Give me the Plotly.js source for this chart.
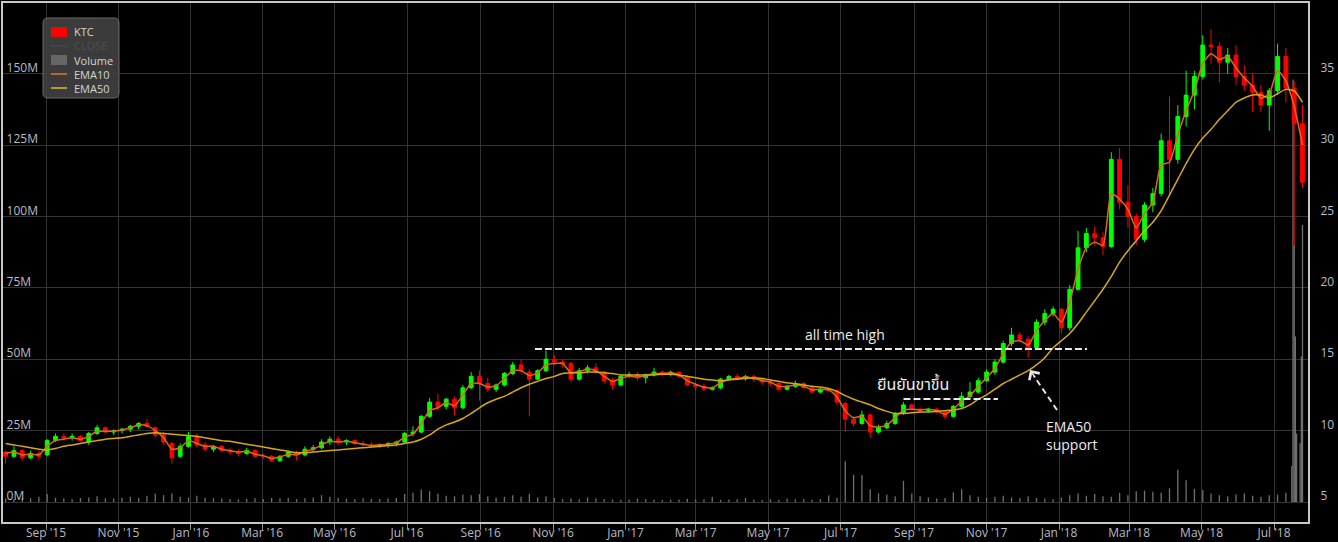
<!DOCTYPE html>
<html><head><meta charset="utf-8">
<script src="https://cdn.plot.ly/plotly-3.0.1.min.js"></script>
<style>html,body{margin:0;padding:0;background:#000;}#chart{width:1338px;height:542px;}</style>
</head><body><div id="chart"></div>
<script>
// Weekly candles (mid-week dates), Jul 2015 - Jul 2018
const weekDates = [
'2015-07-29','2015-08-05','2015-08-12','2015-08-19','2015-08-26','2015-09-02','2015-09-09','2015-09-16','2015-09-23','2015-09-30',
'2015-10-07','2015-10-14','2015-10-21','2015-10-28','2015-11-04','2015-11-11','2015-11-18','2015-11-25','2015-12-02','2015-12-09',
'2015-12-16','2015-12-23','2015-12-30','2016-01-06','2016-01-13','2016-01-20','2016-01-27','2016-02-03','2016-02-10','2016-02-17',
'2016-02-24','2016-03-02','2016-03-09','2016-03-16','2016-03-23','2016-03-30','2016-04-06','2016-04-13','2016-04-20','2016-04-27',
'2016-05-04','2016-05-11','2016-05-18','2016-05-25','2016-06-01','2016-06-08','2016-06-15','2016-06-22','2016-06-29','2016-07-06',
'2016-07-13','2016-07-20','2016-07-27','2016-08-03','2016-08-10','2016-08-17','2016-08-24','2016-08-31','2016-09-07','2016-09-14',
'2016-09-21','2016-09-28','2016-10-05','2016-10-12','2016-10-19','2016-10-26','2016-11-02','2016-11-09','2016-11-16','2016-11-23',
'2016-11-30','2016-12-07','2016-12-14','2016-12-21','2016-12-28','2017-01-04','2017-01-11','2017-01-18','2017-01-25','2017-02-01',
'2017-02-08','2017-02-15','2017-02-22','2017-03-01','2017-03-08','2017-03-15','2017-03-22','2017-03-29','2017-04-05','2017-04-12',
'2017-04-19','2017-04-26','2017-05-03','2017-05-10','2017-05-17','2017-05-24','2017-05-31','2017-06-07','2017-06-14','2017-06-21',
'2017-06-28','2017-07-05','2017-07-12','2017-07-19','2017-07-26','2017-08-02','2017-08-09','2017-08-16','2017-08-23','2017-08-30',
'2017-09-06','2017-09-13','2017-09-20','2017-09-27','2017-10-04','2017-10-11','2017-10-18','2017-10-25','2017-11-01','2017-11-08',
'2017-11-15','2017-11-22','2017-11-29','2017-12-06','2017-12-13','2017-12-20','2017-12-27','2018-01-03','2018-01-10','2018-01-17',
'2018-01-24','2018-01-31','2018-02-07','2018-02-14','2018-02-21','2018-02-28','2018-03-07','2018-03-14','2018-03-21','2018-03-28',
'2018-04-04','2018-04-11','2018-04-18','2018-04-25','2018-05-02','2018-05-09','2018-05-16','2018-05-23','2018-05-30','2018-06-06',
'2018-06-13','2018-06-20','2018-06-27','2018-07-04','2018-07-11','2018-07-18','2018-07-25'];

const openP = [
8.5,8.2,8.6,8.1,8.4,8.3,9.3,9.6,9.5,9.6,
9.2,9.8,10.2,9.9,10.0,10.1,10.3,10.5,10.2,9.7,
9.1,8.2,8.9,9.6,9.0,8.7,8.9,8.6,8.5,8.4,
8.6,8.2,8.2,7.9,8.2,8.5,8.3,8.7,8.8,9.2,
9.4,9.2,9.3,9.1,9.0,8.9,9.0,9.1,9.2,9.8,
9.9,11.0,12.0,11.7,12.2,11.6,13.0,13.8,13.3,12.9,
13.2,14.0,14.6,14.1,13.6,14.2,15.0,14.8,14.7,13.6,
14.2,14.4,14.1,13.5,13.2,13.8,13.9,13.7,13.9,14.1,
14.0,14.1,13.8,13.2,13.1,12.9,13.0,13.6,13.8,13.7,
13.8,13.6,13.4,13.3,12.9,13.1,13.3,13.0,12.7,12.9,
12.8,11.9,10.8,10.5,11.1,9.9,10.2,10.5,11.2,11.8,
11.5,11.4,11.5,11.3,11.0,11.7,12.4,12.7,13.5,14.1,
14.8,16.1,16.7,16.4,15.8,17.6,18.2,18.5,17.2,19.9,
22.8,23.8,23.5,22.9,29.0,26.0,25.0,23.4,25.8,26.6,
30.3,29.0,32.0,33.5,34.8,37.0,36.9,35.8,36.3,34.8,
34.2,33.7,32.8,33.8,36.2,34.0,31.5];

const highP = [
8.6,8.9,8.7,8.6,8.6,9.4,9.8,9.8,9.8,9.7,
9.9,10.4,10.3,10.1,10.2,10.4,10.6,10.8,10.3,9.9,
9.2,9.1,9.9,9.8,9.2,9.0,9.0,8.8,8.7,8.8,
8.7,8.4,8.3,8.3,8.6,8.6,8.9,9.0,9.4,9.6,
9.6,9.4,9.4,9.3,9.2,9.1,9.2,9.3,9.9,10.3,
11.1,12.3,12.6,12.3,12.4,13.2,14.1,14.2,13.7,13.3,
14.1,14.8,15.0,14.3,14.3,15.6,15.3,15.0,14.8,14.4,
14.6,14.7,14.2,13.7,13.9,14.1,14.1,14.0,14.4,14.2,
14.2,14.1,13.9,13.4,13.3,13.1,13.7,13.9,14.0,13.9,
13.9,13.7,13.6,13.4,13.2,13.5,13.4,13.1,13.0,13.0,
12.9,12.0,11.0,11.4,11.2,10.4,10.7,11.3,12.0,11.9,
11.6,11.6,11.6,11.3,11.8,12.7,13.4,13.7,14.3,15.0,
16.3,17.2,16.9,16.6,17.8,18.5,18.7,18.6,20.2,24.0,
24.2,24.3,23.9,29.5,29.8,27.2,25.2,26.0,27.0,30.8,
33.4,32.8,35.2,35.2,37.7,38.1,37.2,36.8,37.0,35.6,
35.0,34.2,34.0,37.1,36.8,34.5,32.8];

const lowP = [
7.7,8.1,7.9,8.0,8.0,8.2,9.2,9.3,9.3,9.2,
9.0,9.7,9.8,9.7,9.8,9.9,10.1,10.2,9.5,9.0,
7.7,8.1,8.8,8.8,8.5,8.5,8.5,8.3,8.2,8.3,
8.1,8.0,7.8,7.8,8.1,7.9,8.2,8.5,8.7,9.0,
9.0,9.0,9.0,8.9,8.8,8.8,8.8,8.9,9.1,9.6,
9.8,10.9,11.4,11.5,11.1,11.5,12.9,12.1,12.7,12.7,
13.1,13.9,14.0,11.0,13.5,14.1,14.6,14.4,13.4,13.5,
14.0,14.0,13.3,12.9,13.1,13.7,13.5,13.3,13.8,13.8,
13.8,13.7,13.1,12.8,12.8,12.8,12.9,13.5,13.6,13.5,
13.4,13.2,13.1,12.8,12.8,13.0,12.9,12.6,12.6,12.7,
11.8,9.9,10.3,10.4,9.5,9.8,10.1,10.4,11.1,11.4,
11.3,11.3,11.2,10.8,10.9,11.6,12.2,12.6,13.4,13.9,
14.7,15.9,16.2,15.1,15.7,17.4,18.0,16.8,17.0,19.8,
22.5,23.0,22.3,22.8,25.5,24.2,23.0,23.2,25.3,26.4,
26.5,28.7,31.3,32.5,34.6,35.7,34.4,35.0,34.2,33.8,
32.3,32.3,31.0,33.5,33.0,22.9,27.0];

const closeP = [
8.2,8.6,8.1,8.4,8.2,9.3,9.6,9.5,9.6,9.3,
9.8,10.2,9.9,10.0,10.1,10.3,10.5,10.3,9.7,9.2,
8.1,8.9,9.6,9.0,8.7,8.9,8.6,8.5,8.4,8.6,
8.2,8.2,7.9,8.2,8.5,8.3,8.7,8.8,9.2,9.4,
9.2,9.3,9.1,9.0,8.9,9.0,9.1,9.2,9.8,9.9,
11.0,12.0,11.7,12.2,11.6,13.0,13.8,13.3,12.9,13.2,
14.0,14.6,14.2,13.6,14.2,15.0,14.8,14.7,13.6,14.2,
14.4,14.1,13.5,13.2,13.8,13.9,13.7,13.9,14.1,14.0,
14.1,13.8,13.2,13.1,12.9,13.0,13.6,13.8,13.7,13.8,
13.6,13.4,13.3,12.9,13.1,13.3,13.0,12.7,12.9,12.8,
12.0,10.8,10.5,11.1,9.9,10.2,10.5,11.2,11.8,11.5,
11.4,11.5,11.3,11.0,11.7,12.4,12.7,13.5,14.1,14.8,
16.1,16.7,16.4,15.8,17.6,18.2,18.5,17.2,19.9,22.8,
23.8,23.5,22.9,29.0,26.0,25.0,23.4,25.8,26.6,30.3,
29.0,32.0,33.5,34.8,37.0,36.9,35.8,36.3,34.8,34.2,
33.7,32.8,33.8,36.2,34.0,31.5,27.4];

const ema10 = [
8.4,8.5,8.3,8.35,8.3,8.9,9.3,9.4,9.5,9.4,
9.6,9.95,9.95,9.97,10.05,10.2,10.4,10.35,10.0,9.5,
8.7,8.8,9.3,9.1,8.9,8.9,8.7,8.6,8.5,8.55,
8.35,8.25,8.05,8.15,8.35,8.3,8.55,8.7,9.0,9.25,
9.2,9.25,9.15,9.05,8.95,9.0,9.05,9.15,9.55,9.75,
10.5,11.4,11.6,11.95,11.75,12.5,13.3,13.3,13.05,13.15,
13.65,14.2,14.2,13.85,14.05,14.6,14.7,14.7,14.05,14.15,
14.3,14.2,13.8,13.45,13.65,13.8,13.75,13.85,14.0,14.0,
14.05,13.9,13.5,13.25,13.05,13.0,13.35,13.6,13.65,13.75,
13.65,13.5,13.4,13.1,13.1,13.2,13.1,12.85,12.9,12.85,
12.35,11.4,10.9,11.0,10.35,10.25,10.4,10.9,11.45,11.5,
11.45,11.5,11.4,11.15,11.5,12.05,12.45,13.1,13.7,14.35,
15.4,16.2,16.3,16.0,17.0,17.7,18.2,17.6,19.0,21.3,
22.8,23.2,23.0,26.6,26.2,25.5,24.2,25.2,26.0,28.6,
28.8,30.7,32.4,33.8,35.7,36.4,36.0,36.2,35.4,34.7,
34.1,33.3,33.6,35.2,34.5,32.7,30.0];

const ema50 = [
9.1,9.0,8.9,8.8,8.7,8.65,8.75,8.9,9.0,9.1,
9.2,9.3,9.4,9.45,9.5,9.6,9.7,9.8,9.85,9.8,
9.75,9.7,9.65,9.6,9.5,9.4,9.3,9.25,9.15,9.05,
8.95,8.85,8.75,8.65,8.55,8.45,8.45,8.5,8.55,8.6,
8.65,8.7,8.75,8.8,8.85,8.9,8.95,9.0,9.1,9.2,
9.4,9.7,10.1,10.4,10.6,10.85,11.2,11.6,11.95,12.2,
12.4,12.7,13.0,13.25,13.45,13.65,13.8,14.0,14.05,14.05,
14.1,14.1,14.05,14.0,13.9,13.9,13.9,13.9,13.9,13.95,
13.95,13.9,13.8,13.7,13.6,13.55,13.5,13.55,13.6,13.65,
13.7,13.65,13.55,13.45,13.35,13.3,13.2,13.1,13.05,12.95,
12.75,12.45,12.2,12.0,11.8,11.55,11.35,11.2,11.2,11.25,
11.3,11.3,11.35,11.4,11.45,11.55,11.8,12.2,12.5,12.9,
13.3,13.6,13.9,14.2,14.6,15.1,15.8,16.3,16.8,17.5,
18.3,19.1,19.9,20.8,21.8,22.6,23.3,24.0,24.6,25.4,
26.5,27.6,28.7,29.7,30.5,31.1,31.8,32.4,33.0,33.3,
33.5,33.5,33.3,33.6,33.9,33.8,33.0];

// Volume in millions: weekly (first 155 weeks) then daily for the final days
const volumeWeeklyM = [
1.2,1.0,1.5,1.3,1.8,2.8,1.5,1.2,1.0,1.4,
1.6,2.0,1.3,1.2,1.5,1.8,1.4,2.2,2.9,2.4,
3.0,1.8,1.6,2.2,1.5,1.3,1.2,1.0,0.9,1.1,
1.3,1.0,1.4,1.2,1.5,1.0,1.3,1.6,2.4,1.8,
1.5,1.2,1.0,1.3,1.1,1.0,1.2,1.4,2.8,3.2,
4.4,3.8,2.9,2.2,2.0,2.6,2.4,2.8,2.0,1.6,
1.8,2.4,1.8,2.9,1.6,2.0,1.4,1.0,1.2,0.9,
1.6,1.2,1.0,0.9,0.8,0.9,1.2,1.0,0.8,0.7,
0.8,0.9,1.1,0.9,1.0,1.8,0.8,0.9,1.0,1.4,
0.8,0.7,0.9,0.8,1.2,0.9,1.0,0.8,1.0,2.3,
1.5,14.3,9.5,9.5,4.5,3.0,2.5,2.0,7.4,3.0,
2.0,1.6,1.2,1.4,3.4,4.5,2.4,1.8,1.5,1.8,
2.2,1.6,1.3,2.0,1.4,1.2,1.0,1.6,2.4,3.0,
2.2,2.8,2.0,1.8,3.2,2.4,3.8,4.0,3.6,3.2,
4.8,11.3,7.6,4.6,4.2,3.0,2.4,2.0,2.6,3.0,
2.2,1.8,2.4,2.6,3.2];
const volumeDailyDates = ['2018-07-16','2018-07-17','2018-07-18','2018-07-19','2018-07-20','2018-07-23','2018-07-24','2018-07-25'];
const volumeDailyM = [12.6,148,90,58,24,20.6,51,97];

const volumeTicks = [0,25,50,75,100,125,150];
const volumeTickText = volumeTicks.map(v => v + 'M');

const volDates = weekDates.slice(0, volumeWeeklyM.length).concat(volumeDailyDates);
const volVals = volumeWeeklyM.concat(volumeDailyM);

const FONT = "'Open Sans', 'Noto Sans', sans-serif";
const TICKCOL = '#b8bcc4';
const LINECOL = '#c8c8c8';
const UP = '#00ff00', DOWN = '#ff0000';
const EMA10COL = '#d9691e', EMA50COL = '#d6a816', VOLCOL = '#707070';

const traces = [
  {type:'candlestick', name:'KTC', x:weekDates, open:openP, high:highP, low:lowP, close:closeP,
   yaxis:'y2', whiskerwidth:0,
   increasing:{line:{color:UP, width:1}, fillcolor:UP},
   decreasing:{line:{color:DOWN, width:1}, fillcolor:DOWN},
   hoverinfo:'skip'},
  {type:'scatter', mode:'lines', name:'CLOSE', x:weekDates, y:closeP, yaxis:'y2',
   visible:'legendonly', line:{color:'#777', width:1.5}},
  {type:'bar', name:'Volume', x:volDates, y:volVals, yaxis:'y',
   marker:{color:VOLCOL, line:{width:0}}, width:86400000*1.1, hoverinfo:'skip'},
  {type:'scatter', mode:'lines', name:'EMA10', x:weekDates, y:ema10, yaxis:'y2',
   line:{color:EMA10COL, width:1.5, shape:'spline', smoothing:0.6}, hoverinfo:'skip'},
  {type:'scatter', mode:'lines', name:'EMA50', x:weekDates, y:ema50, yaxis:'y2',
   line:{color:EMA50COL, width:1.5, shape:'spline', smoothing:0.6}, hoverinfo:'skip'}
];

// ---- legend panel (drawn as layout decoration, positioned in pixels) ----
const W = 1338, H = 542, ML = 3, MR = 30, MT = 3, MB = 20;
const PW = W - ML - MR, PH = H - MT - MB;
const px = v => (v - ML) / PW;            // pixel x -> paper x
const py = v => (H - MB - v) / PH;        // pixel y -> paper y

function roundRect(x0, y0, x1, y1, r) {
  const rx = r / PW, ry = r / PH;
  const X0 = px(x0), X1 = px(x1), Y0 = py(y1), Y1 = py(y0); // Y1 = top
  return `M${X0+rx},${Y0} L${X1-rx},${Y0} Q${X1},${Y0} ${X1},${Y0+ry} L${X1},${Y1-ry} Q${X1},${Y1} ${X1-rx},${Y1} ` +
         `L${X0+rx},${Y1} Q${X0},${Y1} ${X0},${Y1-ry} L${X0},${Y0+ry} Q${X0},${Y0} ${X0+rx},${Y0} Z`;
}

const legendItems = [
  {name: traces[0].name, kind:'box',  color: DOWN,      textColor:'#d4d4d4'},
  {name: traces[1].name, kind:'line', color:'#444444',  textColor:'#4e4e4e'},
  {name: traces[2].name, kind:'box',  color:'#666666',  textColor:'#d4d4d4'},
  {name: traces[3].name, kind:'line', color:'#c0622a',  textColor:'#d4d4d4'},
  {name: traces[4].name, kind:'line', color:'#b89a2a',  textColor:'#d4d4d4'}
];

const shapes = [
  {type:'path', xref:'paper', yref:'paper', path: roundRect(43, 18, 119, 98, 5),
   fillcolor:'rgba(64,64,64,0.92)', line:{color:'#6a6a6a', width:1}, layer:'above'}
];
const annotations = [];
legendItems.forEach((it, k) => {
  const cy = 32 + k * 14;
  if (it.kind === 'box') {
    shapes.push({type:'rect', xref:'paper', yref:'paper', x0:px(51), x1:px(67), y0:py(cy+5), y1:py(cy-5),
                 fillcolor:it.color, line:{width:0}, layer:'above'});
  } else {
    shapes.push({type:'line', xref:'paper', yref:'paper', x0:px(51), x1:px(67), y0:py(cy), y1:py(cy),
                 line:{color:it.color, width:2}, layer:'above'});
  }
  annotations.push({xref:'paper', yref:'paper', x:px(72), y:py(cy), text:it.name, showarrow:false,
                    xanchor:'left', yanchor:'middle', font:{family:FONT, size:11, color:it.textColor}});
});

// ---- chart annotations ----
const athLevel = 15.71;
const confirmLevel = 12.21;
shapes.push(
  {type:'line', xref:'x', yref:'y2', x0:'2016-10-16 17:00', x1:'2018-01-24 14:00', y0:athLevel, y1:athLevel,
   line:{color:'#e8e8e8', width:2, dash:'7px,3px'}},
  {type:'line', xref:'x', yref:'y2', x0:'2017-08-23', x1:'2017-11-10 14:00', y0:confirmLevel, y1:confirmLevel,
   line:{color:'#e8e8e8', width:2, dash:'7px,3px'}},
  {type:'line', xref:'x', yref:'y2', x0:'2017-12-30 07:00', x1:'2017-12-10 22:00', y0:11.44, y1:13.82,
   line:{color:'#e8e8e8', width:2, dash:'6px,4px'}}
);
annotations.push(
  {xref:'x', yref:'y2', x:'2017-07-04 19:00', y:16.70, text:'all time high', showarrow:false,
   font:{family:FONT, size:14, color:'#ececec'}, xanchor:'center', yanchor:'middle'},
  {xref:'x', yref:'y2', x:'2017-08-31', y:13.19, text:'ยืนยันขาขึ้น', showarrow:false,
   font:{family:"'Noto Sans Thai','Noto Sans','Open Sans',sans-serif", size:16, color:'#ececec'}, xanchor:'center', yanchor:'middle'},
  {xref:'x', yref:'y2', x:'2017-12-19 07:00', y:9.69, text:'EMA50<br>support', showarrow:false, align:'left',
   font:{family:FONT, size:14, color:'#ececec'}, xanchor:'left', yanchor:'middle'},
  {xref:'x', yref:'y2', x:'2017-12-07 14:00', y:14.245, text:'', showarrow:true,
   ax:6, ay:9, arrowhead:4, arrowsize:1.6, arrowwidth:1.5, arrowcolor:'#e8e8e8'}
);

const layout = {
  width:W, height:H,
  paper_bgcolor:'#000000', plot_bgcolor:'#000000',
  margin:{l:ML, r:MR, t:MT, b:MB, pad:0},
  hovermode:false,
  boxgap:0.35,
  showlegend:false,
  xaxis:{type:'date', range:['2015-07-26 19:00','2018-07-29 15:00'],
         rangeslider:{visible:false},
         tick0:'2015-09-01', dtick:'M2', tickformat:"%b '%y",
         showgrid:true, gridcolor:'#333333', gridwidth:1,
         ticks:'outside', ticklen:6, tickcolor:'#8a8a8a', ticklabelstandoff:-7,
         showline:true, linecolor:LINECOL, linewidth:2, mirror:true,
         tickfont:{family:FONT, size:12, color:TICKCOL}},
  yaxis:{range:[-7.0, 174.75], tickvals:volumeTicks, ticktext:volumeTickText,
         showgrid:false, zeroline:false, showline:true, linecolor:LINECOL, linewidth:2,
         ticks:'', ticklabelposition:'inside', ticklabelshift:-6, ticklabelstandoff:3,
         tickfont:{family:FONT, size:12, color:TICKCOL}},
  yaxis2:{overlaying:'y', side:'right', range:[3.6, 39.95], tick0:0, dtick:5,
          showgrid:true, gridcolor:'#333333', gridwidth:1, zeroline:false,
          showline:true, linecolor:LINECOL, linewidth:2, ticks:'',
          ticklabelshift:-6, ticklabelstandoff:8,
          tickfont:{family:FONT, size:12, color:TICKCOL}},
  shapes: shapes,
  annotations: annotations
};

Plotly.newPlot('chart', traces, layout, {displayModeBar:false, staticPlot:true});
</script>
</body></html>
